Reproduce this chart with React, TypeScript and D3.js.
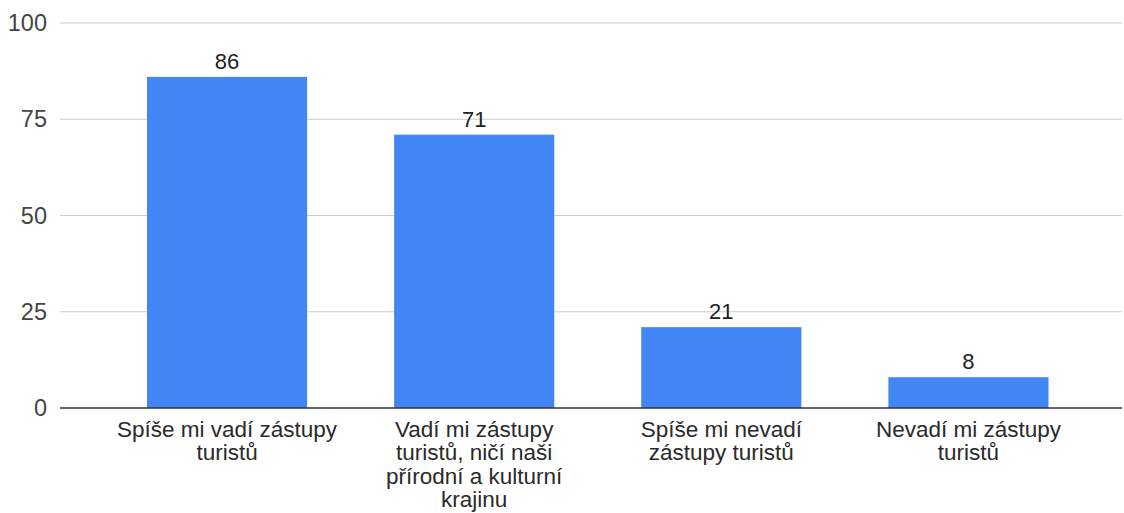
import React from "react";
import * as d3 from "d3";

const categories: string[][] = [
  ["Spíše mi vadí zástupy", "turistů"],
  ["Vadí mi zástupy", "turistů, ničí naši", "přírodní a kulturní", "krajinu"],
  ["Spíše mi nevadí", "zástupy turistů"],
  ["Nevadí mi zástupy", "turistů"],
];
const values: number[] = [86, 71, 21, 8];
const yTicks: number[] = [0, 25, 50, 75, 100];

const W = 1124;
const H = 513;

export default function App() {
  const ids = categories.map((_, i) => String(i));
  const x = d3.scaleBand<string>().domain(ids).range([103.5, 1092]).paddingInner(0.352).paddingOuter(0.176);
  const y = d3.scaleLinear().domain([0, 100]).range([408, 23]);
  const font = "Arial, 'Liberation Sans', sans-serif";
  return (
    <svg width={W} height={H} style={{ position: "absolute", left: 0, top: 0, background: "#fff" }}>
      {yTicks.map((t) => (
        <g key={t}>
          {t !== 0 && <line x1={60} x2={1122} y1={y(t)} y2={y(t)} stroke="#cccccc" strokeWidth={1} />}
          <text x={47} y={y(t)} dy="0.35em" textAnchor="end" fontFamily={font} fontSize={23.5} fill="#444">
            {t}
          </text>
        </g>
      ))}
      {values.map((v, i) => (
        <g key={i}>
          <rect x={x(ids[i])} y={y(v)} width={x.bandwidth()} height={y(0) - y(v)} fill="#4285F4" />
          <text x={(x(ids[i]) as number) + x.bandwidth() / 2} y={y(v) - 8} textAnchor="middle" fontFamily={font} fontSize={22} fill="#222">
            {v}
          </text>
        </g>
      ))}
      <line x1={60} x2={1122} y1={y(0)} y2={y(0)} stroke="#333" strokeWidth={1.5} />
      {categories.map((lines, i) => (
        <text key={i} textAnchor="middle" fontFamily={font} fontSize={22.5} fill="#2a2a2a">
          {lines.map((l, j) => (
            <tspan key={j} x={(x(ids[i]) as number) + x.bandwidth() / 2} y={437 + j * 23.3}>
              {l}
            </tspan>
          ))}
        </text>
      ))}
    </svg>
  );
}
